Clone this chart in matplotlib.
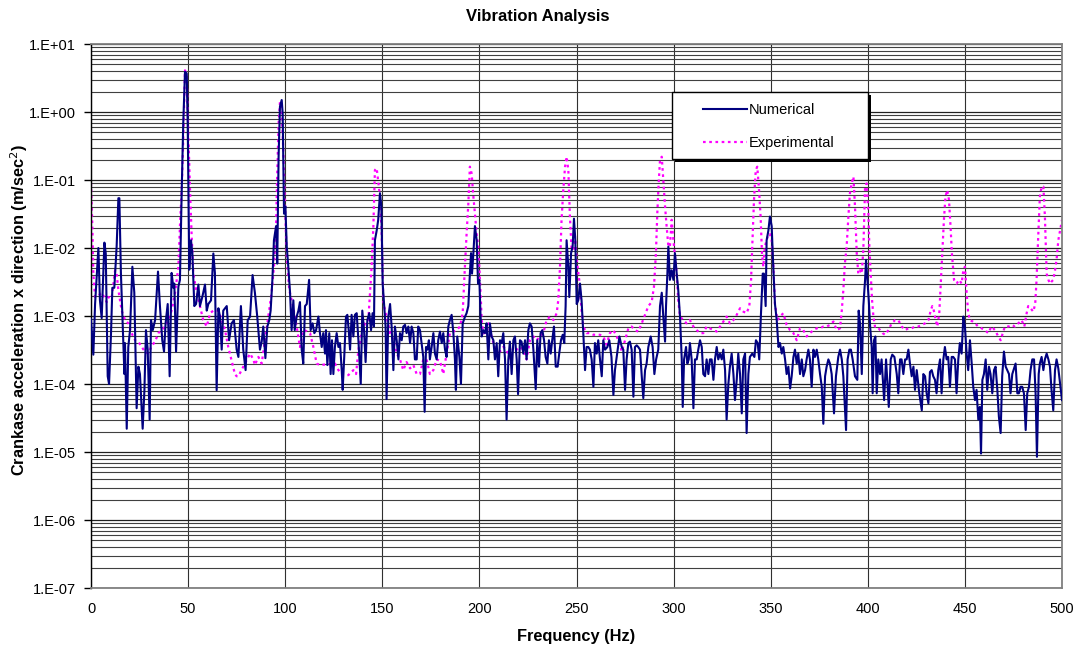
import numpy as np
import matplotlib
matplotlib.use("Agg")
import matplotlib.pyplot as plt
from matplotlib.patches import Rectangle
from matplotlib.lines import Line2D
from matplotlib.ticker import LogLocator, FuncFormatter

plt.rcParams["font.family"] = ["Liberation Sans", "DejaVu Sans"]

# ---- data (frequency in Hz, acceleration in m/s^2)
num_freq = [
    0.0, 1.2, 2.1, 3.8, 4.6, 5.5, 6.9, 7.6, 8.6, 9.3, 10.3, 11.0, 12.0, 13.2, 14.1, 14.6, 15.4,
    16.6, 17.2, 17.5, 18.4, 19.2, 20.1, 21.3, 22.3, 23.5, 24.4, 25.2, 26.6, 27.5, 28.3, 29.2,
    30.2, 30.9, 31.8, 33.0, 34.5, 35.5, 36.7, 37.6, 38.4, 39.5, 40.5, 41.5, 42.4, 42.9, 43.8,
    45.0, 45.8, 46.7, 47.5, 48.4, 49.3, 49.8, 50.6, 51.5, 52.2, 53.2, 54.1, 55.3, 56.1, 57.3,
    58.7, 59.6, 60.4, 61.8, 63.0, 63.8, 64.7, 65.6, 66.4, 67.3, 68.1, 69.9, 71.1, 72.4, 73.6,
    75.0, 75.9, 77.2, 78.4, 79.6, 80.7, 81.9, 83.2, 84.4, 85.6, 87.0, 87.9, 88.7, 89.8, 90.8,
    91.8, 92.5, 93.4, 94.2, 95.3, 95.9, 96.6, 97.3, 98.2, 98.7, 99.4, 100.1, 100.8, 101.6,
    102.5, 103.3, 104.2, 104.9, 105.9, 106.8, 107.6, 108.5, 109.3, 110.2, 111.1, 112.3, 113.1,
    114.1, 115.0, 115.9, 117.1, 117.9, 118.8, 119.6, 120.5, 121.0, 121.7, 122.7, 123.4, 124.1,
    124.8, 125.6, 126.5, 127.4, 128.2, 129.1, 129.6, 130.4, 131.3, 132.0, 132.7, 133.4, 134.2,
    135.1, 135.9, 136.8, 137.7, 138.9, 139.7, 140.6, 141.4, 142.3, 143.3, 144.2, 145.0, 145.7,
    146.2, 147.1, 147.9, 148.8, 149.5, 150.2, 150.9, 151.7, 152.2, 153.1, 154.0, 154.8, 155.7,
    156.5, 157.4, 158.3, 159.1, 160.0, 160.8, 161.7, 162.5, 163.4, 164.3, 165.1, 166.0, 166.8,
    167.7, 168.5, 169.4, 171.1, 171.8, 172.5, 173.2, 174.0, 174.5, 175.4, 176.3, 177.1, 178.0,
    178.8, 179.7, 180.6, 181.4, 182.3, 183.1, 184.0, 184.8, 185.7, 186.6, 187.4, 187.9, 188.6,
    189.7, 190.5, 191.4, 192.6, 193.4, 194.3, 195.1, 195.7, 196.2, 196.9, 197.7, 198.6, 199.3,
    200.0, 200.6, 201.2, 202.0, 202.9, 203.7, 204.6, 205.4, 206.3, 207.2, 208.0, 208.9, 209.7,
    210.6, 211.5, 212.3, 213.2, 214.0, 214.9, 215.7, 216.6, 217.5, 218.3, 219.2, 219.9, 220.9,
    221.7, 222.6, 223.5, 224.3, 225.2, 226.0, 226.9, 227.8, 229.0, 229.8, 230.7, 231.5, 232.4,
    233.3, 234.1, 235.0, 235.8, 236.7, 237.5, 238.4, 239.3, 240.3, 241.1, 242.0, 242.9, 243.7,
    244.4, 244.9, 245.8, 246.3, 247.2, 248.0, 248.7, 249.4, 250.1, 250.9, 251.8, 252.6, 253.5,
    254.4, 255.2, 256.1, 256.9, 257.8, 258.7, 259.5, 260.4, 261.2, 262.1, 263.0, 263.8, 264.7,
    265.9, 266.9, 268.0, 269.0, 269.8, 270.7, 272.1, 273.3, 274.1, 275.0, 275.8, 276.7, 277.5,
    278.4, 279.3, 280.1, 281.0, 281.8, 282.7, 283.6, 284.4, 285.3, 286.1, 287.0, 288.2, 289.2,
    290.1, 291.0, 292.1, 293.0, 293.9, 294.7, 295.6, 296.1, 296.8, 297.3, 298.1, 299.0, 299.9,
    300.7, 301.6, 302.4, 303.3, 304.2, 304.7, 305.4, 306.4, 307.1, 307.8, 308.4, 309.3, 310.2,
    311.0, 311.9, 312.7, 313.6, 314.5, 315.3, 316.2, 317.0, 317.9, 318.7, 319.6, 320.5, 321.3,
    322.2, 323.0, 323.9, 324.8, 325.6, 326.5, 327.3, 328.2, 329.0, 329.9, 330.8, 331.6, 332.5,
    333.3, 334.2, 335.1, 335.9, 336.8, 337.6, 338.5, 339.3, 340.5, 341.6, 342.4, 343.3, 344.1,
    345.0, 345.9, 346.5, 347.4, 347.9, 348.8, 349.6, 350.5, 351.4, 352.2, 353.1, 354.0, 354.8,
    355.7, 356.5, 357.4, 358.2, 359.1, 360.0, 360.8, 361.7, 362.5, 363.4, 364.2, 365.1, 366.0,
    366.8, 367.7, 368.5, 369.4, 370.2, 371.1, 372.0, 372.8, 373.7, 374.5, 375.4, 376.3, 377.1,
    378.0, 378.8, 379.7, 380.5, 381.4, 382.6, 383.6, 384.8, 385.7, 386.6, 387.4, 388.8, 389.6,
    390.5, 391.3, 392.2, 393.4, 394.6, 395.3, 396.0, 396.9, 397.7, 398.6, 399.1, 399.8, 400.5,
    401.2, 402.0, 402.5, 403.2, 403.9, 404.6, 405.4, 406.3, 407.1, 408.4, 409.4, 410.8, 411.8,
    412.6, 413.7, 414.9, 415.7, 416.6, 417.4, 418.3, 419.2, 420.0, 420.9, 421.7, 422.6, 423.5,
    424.3, 425.2, 426.5, 427.8, 428.6, 429.5, 430.3, 431.2, 432.0, 432.9, 433.7, 434.6, 435.4,
    436.3, 437.2, 438.0, 438.9, 439.7, 440.6, 441.4, 442.3, 443.2, 444.0, 444.9, 445.7, 446.6,
    447.4, 448.3, 449.2, 450.0, 450.9, 451.7, 452.6, 453.5, 454.3, 455.2, 456.0, 456.9, 457.7,
    458.3, 459.0, 459.8, 460.7, 461.5, 462.4, 463.2, 464.1, 465.0, 465.8, 466.7, 467.5, 468.4,
    469.2, 470.1, 471.0, 471.8, 472.7, 473.5, 474.4, 475.3, 476.1, 477.0, 477.8, 478.7, 479.5,
    480.4, 481.3, 482.1, 483.0, 483.8, 484.7, 485.6, 486.4, 487.1, 488.0, 488.6, 489.5, 490.4,
    491.2, 492.1, 493.0, 493.8, 494.6, 495.5, 496.4, 497.2, 498.1, 500.0,
]
num_acc = [
    9e-4, 2.7e-4, 1.5e-3, 1.0e-2, 1.7e-3, 9.3e-4, 1.2e-2, 8.3e-3, 1.3e-4, 1.0e-4, 5.5e-4, 2.6e-3, 2.6e-3, 1.05e-2, 5.4e-2, 5.4e-2, 4.3e-3,
    4.4e-4, 1.4e-4, 4.0e-4, 2.2e-5, 3.5e-4, 6.2e-4, 5.3e-3, 2.2e-3, 4.4e-5, 1.8e-4, 1.4e-4, 2.2e-5, 8e-5, 6.2e-4, 3.2e-4,
    3.0e-5, 8.7e-4, 6.2e-4, 8.7e-4, 4.5e-3, 1.4e-3, 4.4e-4, 3.0e-4, 7.8e-4, 1.5e-3, 1.3e-4, 4.3e-3, 2.6e-3, 3.0e-3, 3.0e-4,
    2.7e-3, 3.4e-3, 6.8e-2, 0.68, 3.9, 3.7, 0.68, 4.8e-3, 1.3e-2, 8.3e-3, 1.4e-3, 1.5e-3, 2.9e-3, 1.4e-3, 1.9e-3,
    2.9e-3, 1.2e-3, 1.5e-3, 1.7e-3, 8.3e-3, 4.3e-3, 8.1e-5, 1.3e-3, 9.8e-4, 3.2e-4, 1.2e-3, 1.4e-3, 4.4e-4, 7.8e-4, 8.7e-4,
    3.2e-4, 2.5e-4, 1.4e-3, 3.2e-4, 1.6e-4, 8.7e-4, 9.8e-4, 4.0e-3, 2.2e-3, 9.8e-4, 3.2e-4, 4.2e-4, 7.0e-4, 2.4e-4, 7.0e-4,
    8.7e-4, 1.2e-3, 3.4e-3, 1.3e-2, 2.1e-2, 5.9e-3, 0.22, 1.2, 1.5, 0.95, 3.2e-2, 4.1e-2, 1.05e-2, 5.3e-3,
    2.2e-3, 6.2e-4, 1.7e-3, 6.2e-4, 9.8e-4, 1.2e-3, 1.6e-3, 3.2e-4, 2.0e-4, 1.4e-3, 1.5e-3, 3.4e-3, 6.2e-4,
    7.8e-4, 5.6e-4, 6.2e-4, 9.8e-4, 5.6e-4, 3.5e-4, 5.6e-4, 2.8e-4, 6.2e-4, 1.9e-4, 5.6e-4, 1.4e-4, 4.4e-4,
    1.4e-4, 3.5e-4, 5.6e-4, 3.5e-4, 4.0e-4, 1.6e-4, 8.2e-5, 2.5e-4, 9.8e-4, 1.04e-3, 6.2e-4, 3.2e-4, 1.04e-3,
    5.0e-4, 1.04e-3, 1.1e-3, 4.4e-4, 1.0e-4, 1.2e-3, 6.2e-4, 2.1e-4, 8.7e-4, 1.1e-3, 6.2e-4, 1.1e-3, 7.0e-4,
    1.3e-2, 1.8e-2, 2.6e-2, 6.4e-2, 4.1e-2, 3.0e-3, 1.5e-3, 7.0e-4, 6.0e-5, 9.8e-4, 1.5e-3, 7.0e-4, 1.6e-4,
    7.0e-4, 4.4e-4, 2.3e-4, 5.6e-4, 4.4e-4, 7.0e-4, 7.4e-4, 5.6e-4, 7.0e-4, 4.0e-4, 7.0e-4, 5.6e-4, 2.3e-4,
    2.3e-4, 7.0e-4, 6.2e-4, 2.5e-4, 3.9e-5, 3.5e-4, 3.2e-4, 4.4e-4, 2.3e-4, 3.5e-4, 5.6e-4, 2.8e-4, 2.3e-4,
    4.4e-4, 5.9e-4, 4.0e-4, 5.6e-4, 3.2e-4, 2.5e-4, 7.0e-4, 8.7e-4, 1.04e-3, 5.6e-4, 2.3e-4, 8.2e-5, 5.0e-4,
    2.5e-4, 1.0e-4, 7.8e-4, 9.8e-4, 1.1e-3, 1.4e-3, 4.2e-3, 8.4e-3, 4.2e-3, 8.4e-3, 2.1e-2, 1.3e-2, 3.0e-3,
    3.4e-3, 9.8e-4, 5.0e-4, 6.2e-4, 5.6e-4, 7.8e-4, 2.3e-4, 7.8e-4, 5.0e-4, 4.4e-4, 2.3e-4, 4.0e-4, 1.3e-4,
    4.4e-4, 4.0e-4, 5.6e-4, 2.3e-4, 3.0e-5, 2.3e-4, 4.2e-4, 1.4e-4, 4.4e-4, 5.0e-4, 2.3e-4, 7.1e-5, 4.4e-4,
    4.2e-4, 2.8e-4, 4.4e-4, 2.3e-4, 6.2e-4, 7.8e-4, 7.0e-4, 3.2e-4, 8.4e-5, 4.4e-4, 1.8e-4, 5.6e-4, 6.2e-4,
    4.4e-4, 2.5e-4, 2.0e-4, 4.4e-4, 2.8e-4, 4.4e-4, 7.0e-4, 1.8e-4, 1.8e-4, 2.8e-4, 4.4e-4, 5.3e-4, 4.0e-4,
    1.4e-3, 1.3e-2, 5.3e-3, 1.9e-3, 8.4e-3, 1.05e-2, 2.7e-2, 1.3e-2, 1.5e-3, 1.7e-3, 3.0e-3, 1.7e-3, 5.6e-4,
    1.6e-4, 3.5e-4, 3.5e-4, 3.2e-4, 2.3e-4, 9.1e-5, 4.0e-4, 2.8e-4, 4.4e-4, 2.3e-4, 1.3e-4, 4.4e-4, 3.2e-4,
    3.5e-4, 4.4e-4, 2.5e-4, 6.9e-5, 1.6e-4, 2.5e-4, 5.0e-4, 3.5e-4, 3.2e-4, 8.2e-5, 2.3e-4, 4.0e-4, 4.2e-4,
    3.2e-4, 6.5e-5, 3.5e-4, 3.7e-4, 3.5e-4, 3.2e-4, 1.3e-4, 6.2e-5, 1.6e-4, 2.0e-4, 3.5e-4, 5.0e-4, 3.5e-4,
    1.4e-4, 2.3e-4, 3.2e-4, 1.4e-3, 2.2e-3, 9.8e-4, 4.2e-4, 1.4e-3, 4.2e-3, 1.05e-2, 3.4e-3, 4.7e-3, 3.4e-3,
    8.4e-3, 4.2e-3, 2.4e-3, 9.8e-4, 2.3e-4, 4.6e-5, 2.3e-4, 3.5e-4, 2.0e-4, 2.3e-4, 4.0e-4, 2.3e-4, 4.4e-5,
    2.3e-4, 2.3e-4, 3.2e-4, 4.4e-4, 3.5e-4, 1.4e-4, 1.3e-4, 2.3e-4, 1.4e-4, 2.3e-4, 2.3e-4, 1.15e-4, 2.3e-4,
    3.5e-4, 2.3e-4, 2.8e-4, 2.3e-4, 3.2e-4, 1.6e-4, 3.0e-5, 1.0e-4, 1.8e-4, 2.8e-4, 1.4e-4, 5.8e-5, 1.15e-4,
    2.8e-4, 1.4e-4, 3.7e-5, 2.3e-4, 2.8e-4, 1.9e-5, 1.4e-4, 2.5e-4, 2.8e-4, 2.5e-4, 4.4e-4, 4.0e-4, 2.3e-4,
    1.1e-3, 4.2e-3, 4.2e-3, 1.4e-3, 1.3e-2, 1.8e-2, 2.9e-2, 2.1e-2, 4.7e-3, 1.5e-3, 8.7e-4, 3.5e-4, 4.0e-4,
    2.8e-4, 3.5e-4, 2.3e-4, 1.4e-4, 1.8e-4, 8.6e-5, 1.3e-4, 2.5e-4, 3.2e-4, 2.0e-4, 2.8e-4, 1.4e-4, 2.3e-4,
    1.3e-4, 1.6e-4, 2.3e-4, 3.2e-4, 2.3e-4, 9.1e-5, 3.2e-4, 2.5e-4, 3.2e-4, 2.3e-4, 1.4e-4, 9.1e-5, 2.6e-5,
    1.3e-4, 1.8e-4, 2.3e-4, 2.0e-4, 1.4e-4, 3.7e-5, 1.3e-4, 2.5e-4, 3.2e-4, 2.3e-4, 1.3e-4, 2.1e-5, 2.3e-4,
    3.2e-4, 3.2e-4, 2.3e-4, 1.3e-4, 1.15e-4, 1.2e-3, 7.8e-4, 1.4e-4, 1.4e-3, 3.4e-3, 6.7e-3, 3.4e-3, 1.7e-3,
    7.0e-4, 3.5e-4, 7.3e-5, 4.4e-4, 5.0e-4, 7.3e-5, 2.3e-4, 1.4e-4, 2.3e-4, 5.8e-5, 2.3e-4, 4.6e-5, 2.3e-4,
    2.7e-4, 2.5e-4, 1.4e-4, 7.3e-5, 2.3e-4, 2.3e-4, 1.4e-4, 2.3e-4, 2.3e-4, 3.2e-4, 2.0e-4, 1.3e-4, 1.8e-4,
    8.2e-5, 1.6e-4, 7.3e-5, 4.1e-5, 1.4e-4, 1.3e-4, 7.3e-5, 5.2e-5, 1.5e-4, 1.6e-4, 1.3e-4, 1.15e-4, 7.3e-5,
    1.6e-4, 2.3e-4, 7.3e-5, 2.3e-4, 3.5e-4, 2.3e-4, 2.5e-4, 9.1e-5, 2.5e-4, 2.5e-4, 2.3e-4, 7.3e-5, 2.3e-4,
    4.0e-4, 2.8e-4, 9.8e-4, 7.0e-4, 2.8e-4, 1.6e-4, 4.4e-4, 2.0e-4, 9.1e-5, 5.8e-5, 8.2e-5, 3.0e-5, 4.6e-5,
    9.5e-6, 1.15e-4, 1.4e-4, 2.3e-4, 8.2e-5, 1.8e-4, 1.4e-4, 7.3e-5, 1.6e-4, 1.8e-4, 8.2e-5, 3.3e-5, 1.9e-5,
    1.3e-4, 3.0e-4, 1.8e-4, 1.6e-4, 1.4e-4, 7.3e-5, 1.4e-4, 1.7e-4, 2.0e-4, 7.3e-5, 7.3e-5, 9.1e-5, 9.1e-5,
    7.3e-5, 2.1e-5, 7.3e-5, 9.1e-5, 1.6e-4, 2.3e-4, 2.3e-4, 7.3e-5, 8.5e-6, 1.4e-4, 2.0e-4, 2.5e-4, 1.6e-4,
    2.3e-4, 2.8e-4, 2.3e-4, 1.8e-4, 8.2e-5, 4.1e-5, 1.6e-4, 2.3e-4, 1.7e-4, 5.8e-5,
]

exp_freq = [
    0.0, 0.7, 1.2, 2.1, 3.8, 5.5, 7.2, 8.1, 8.9, 10.6, 12.4, 13.2, 14.1, 15.8, 17.5, 19.2, 20.9,
    22.7, 24.4, 26.1, 27.8, 29.5, 31.2, 33.0, 34.7, 36.4, 38.1, 39.8, 41.5, 43.3, 45.0, 45.8,
    46.7, 47.5, 48.4, 49.3, 50.1, 51.0, 51.8, 52.7, 54.4, 56.1, 57.8, 59.6, 61.3, 63.0, 65.6,
    67.3, 69.0, 70.7, 72.4, 74.1, 75.0, 75.9, 79.3, 81.9, 83.6, 84.4, 86.2, 87.9, 89.6, 91.3,
    93.0, 94.2, 95.3, 95.9, 96.6, 97.3, 98.2, 99.0, 99.9, 100.8, 102.1, 103.8, 105.9, 107.6,
    109.3, 111.1, 112.8, 114.5, 116.2, 117.9, 125.6, 127.4, 129.9, 132.5, 135.1, 136.5, 137.7,
    139.4, 141.1, 142.8, 144.5, 145.4, 146.2, 147.1, 148.0, 148.8, 149.7, 150.5, 151.4, 152.6,
    154.0, 155.7, 157.4, 159.1, 160.8, 162.5, 164.3, 166.0, 167.7, 169.4, 171.1, 172.8, 174.5,
    176.3, 178.0, 179.7, 181.4, 183.1, 184.8, 186.6, 188.3, 190.0, 191.4, 192.2, 193.4, 194.3,
    195.1, 196.0, 196.9, 197.7, 198.6, 199.4, 200.3, 201.2, 202.0, 203.4, 204.6, 205.4, 206.8,
    208.0, 209.2, 210.6, 212.3, 214.0, 215.7, 217.5, 219.2, 220.9, 222.6, 224.3, 226.0, 227.8,
    229.5, 231.2, 232.9, 234.6, 236.3, 238.1, 239.8, 240.6, 241.5, 242.3, 243.2, 244.1, 244.9,
    245.8, 246.6, 247.5, 248.4, 249.2, 250.1, 251.4, 252.6, 253.5, 255.2, 256.9, 258.7, 261.2,
    262.1, 263.8, 265.5, 267.2, 269.0, 270.7, 272.4, 273.3, 275.0, 276.7, 278.4, 280.1, 281.8,
    283.6, 285.3, 287.0, 288.7, 289.9, 290.9, 291.6, 292.3, 293.0, 293.9, 294.7, 295.6, 296.4,
    297.3, 298.1, 299.0, 299.9, 300.7, 301.6, 302.4, 303.3, 305.0, 306.7, 308.4, 310.2, 311.9,
    313.6, 315.3, 317.0, 318.7, 320.5, 322.2, 323.9, 325.6, 327.3, 329.0, 330.8, 332.5, 334.2,
    335.9, 337.6, 339.0, 339.9, 340.5, 341.4, 342.3, 343.1, 344.0, 344.8, 345.5, 346.2, 347.0,
    347.9, 348.8, 349.6, 350.5, 351.4, 352.2, 353.5, 354.8, 356.5, 358.2, 360.0, 361.7, 363.4,
    365.1, 366.8, 368.5, 370.2, 372.0, 373.7, 375.4, 377.1, 378.8, 380.5, 382.3, 384.0, 385.7,
    386.6, 387.4, 388.2, 389.1, 390.0, 390.8, 391.7, 392.6, 393.4, 394.3, 395.1, 396.0, 396.9,
    397.7, 398.6, 399.4, 400.3, 400.8, 401.5, 402.2, 402.9, 403.7, 404.9, 406.3, 407.6, 408.9,
    410.6, 412.3, 414.0, 415.7, 417.5, 419.2, 420.9, 422.6, 424.3, 426.0, 427.8, 429.5, 431.2,
    432.4, 433.2, 434.0, 435.0, 435.8, 436.8, 437.5, 438.5, 439.2, 440.0, 440.9, 441.8, 442.6,
    443.3, 444.4, 445.7, 447.1, 448.3, 449.2, 450.0, 450.9, 451.7, 452.6, 454.0, 455.2, 456.9,
    458.6, 460.3, 462.0, 463.7, 465.5, 467.2, 468.4, 469.5, 470.6, 472.4, 474.1, 475.8, 477.5,
    479.2, 480.6, 481.8, 482.6, 483.8, 485.2, 486.2, 486.9, 487.8, 488.6, 489.5, 490.4, 491.2,
    492.1, 493.0, 493.8, 494.6, 495.5, 496.4, 497.2, 498.1, 500.0,
]
exp_acc = [
    9e-2, 2.1e-2, 4.2e-3, 1.9e-3, 2.0e-3, 2.2e-3, 1.8e-3, 1.6e-3, 1.9e-3, 1.8e-3, 4.7e-3, 4.2e-3, 2.4e-3, 1.2e-3, 8.7e-4, 7.8e-4, 5.6e-4,
    4.4e-4, 4.2e-4, 3.5e-4, 3.0e-4, 2.8e-4, 3.6e-4, 4.2e-4, 5.6e-4, 6.2e-4, 7.0e-4, 8.7e-4, 1.2e-3, 2.2e-3, 5.3e-3, 2.1e-2,
    7.1e-2, 0.39, 4.1, 3.3, 0.49, 7.1e-2, 1.6e-2, 4.2e-3, 2.2e-3, 1.4e-3, 8.7e-4, 7.0e-4, 1.1e-3, 1.2e-3, 1.2e-3,
    8.7e-4, 6.2e-4, 3.5e-4, 2.2e-4, 1.4e-4, 1.3e-4, 1.3e-4, 2.0e-4, 2.8e-4, 2.3e-4, 1.9e-4, 2.5e-4, 2.0e-4, 4.4e-4, 9.8e-4,
    2.2e-3, 5.3e-3, 2.1e-2, 0.125, 0.68, 1.4, 1.07, 0.28, 4.1e-2, 7.5e-3, 2.4e-3, 1.5e-3, 7.0e-4, 3.5e-4,
    6.2e-4, 6.0e-4, 5.6e-4, 3.5e-4, 2.0e-4, 1.9e-4, 2.0e-4, 1.6e-4, 1.35e-4, 1.35e-4, 1.6e-4, 1.4e-4, 3.2e-4,
    5.6e-4, 7.8e-4, 8.7e-4, 5.3e-3, 2.1e-2, 0.14, 0.149, 8.9e-2, 5.7e-2, 1.6e-2, 1.7e-3, 1.2e-3, 8.7e-4,
    5.6e-4, 4.4e-4, 2.8e-4, 2.3e-4, 1.6e-4, 2.1e-4, 1.7e-4, 1.9e-4, 1.4e-4, 1.4e-4, 2.3e-4, 2.3e-4, 1.4e-4,
    1.6e-4, 2.3e-4, 2.2e-4, 1.4e-4, 2.8e-4, 5.6e-4, 5.9e-4, 6.2e-4, 7.0e-4, 1.1e-3, 3.4e-3, 1.6e-2, 4.5e-2,
    0.157, 0.125, 5.7e-2, 3.2e-2, 1.6e-2, 1.05e-2, 3.4e-3, 8.7e-4, 5.6e-4, 5.6e-4, 7.8e-4, 6.2e-4, 4.4e-4,
    3.5e-4, 3.2e-4, 3.0e-4, 3.5e-4, 3.2e-4, 2.3e-4, 3.5e-4, 3.2e-4, 3.5e-4, 3.2e-4, 2.3e-4, 4.4e-4, 5.0e-4,
    4.4e-4, 5.0e-4, 5.6e-4, 8.7e-4, 9.8e-4, 8.7e-4, 1.1e-3, 1.7e-3, 5.3e-3, 2.6e-2, 7.1e-2, 0.157, 0.22,
    0.14, 2.9e-2, 9.4e-3, 9.4e-3, 1.5e-2, 6.7e-3, 3.4e-3, 1.2e-3, 7.0e-4, 5.6e-4, 5.6e-4, 5.3e-4, 5.3e-4,
    5.3e-4, 5.0e-4, 3.8e-4, 5.6e-4, 6.2e-4, 5.0e-4, 3.8e-4, 3.0e-4, 4.4e-4, 6.6e-4, 7.0e-4, 6.2e-4, 5.9e-4,
    7.8e-4, 1.04e-3, 1.4e-3, 1.6e-3, 2.7e-3, 8.4e-3, 3.2e-2, 8.9e-2, 0.197, 0.22, 0.1, 4.1e-2, 2.1e-2,
    1.05e-2, 1.05e-2, 2.6e-2, 1.3e-2, 7.5e-3, 4.2e-3, 1.7e-3, 9.8e-4, 8.7e-4, 7.8e-4, 8.7e-4, 7.0e-4, 6.2e-4,
    5.6e-4, 5.6e-4, 7.0e-4, 6.6e-4, 6.2e-4, 5.9e-4, 7.0e-4, 8.3e-4, 9.8e-4, 7.8e-4, 8.7e-4, 1.04e-3, 1.3e-3,
    1.16e-3, 1.1e-3, 1.4e-3, 3.4e-3, 1.05e-2, 5.1e-2, 0.14, 0.157, 7.1e-2, 2.9e-2, 8.4e-3, 5.3e-3, 1.05e-2,
    1.3e-2, 1.6e-2, 1.6e-2, 1.3e-2, 5.3e-3, 1.5e-3, 8.7e-4, 9.8e-4, 1.1e-3, 7.4e-4, 6.2e-4, 5.6e-4, 4.4e-4,
    6.6e-4, 6.2e-4, 5.0e-4, 5.6e-4, 6.2e-4, 6.6e-4, 6.6e-4, 7.0e-4, 7.0e-4, 7.4e-4, 8.3e-4, 6.2e-4, 6.6e-4,
    1.2e-3, 2.4e-3, 5.9e-3, 1.05e-2, 2.9e-2, 6.4e-2, 8.9e-2, 0.112, 4.1e-2, 8.4e-3, 4.2e-3, 4.7e-3, 4.2e-3,
    9.4e-3, 8.0e-2, 8.9e-2, 3.2e-2, 1.05e-2, 4.2e-3, 1.7e-3, 9.8e-4, 7.0e-4, 7.0e-4, 6.2e-4, 5.6e-4, 5.3e-4,
    6.2e-4, 7.8e-4, 8.7e-4, 8.7e-4, 7.0e-4, 6.2e-4, 6.6e-4, 6.6e-4, 7.0e-4, 7.0e-4, 7.4e-4, 7.8e-4, 8.7e-4,
    1.2e-3, 1.4e-3, 1.2e-3, 8.7e-4, 7.0e-4, 1.1e-3, 2.7e-3, 1.05e-2, 2.6e-2, 5.7e-2, 7.1e-2, 5.1e-2, 2.1e-2,
    8.4e-3, 3.4e-3, 3.0e-3, 3.4e-3, 3.0e-3, 4.7e-3, 5.3e-3, 2.2e-3, 1.1e-3, 8.7e-4, 8.3e-4, 7.8e-4, 7.0e-4,
    6.6e-4, 6.2e-4, 5.6e-4, 7.0e-4, 6.2e-4, 5.0e-4, 4.4e-4, 5.6e-4, 7.0e-4, 7.0e-4, 7.4e-4, 7.0e-4, 7.8e-4,
    8.7e-4, 7.0e-4, 1.1e-3, 1.4e-3, 1.3e-3, 1.16e-3, 1.5e-3, 3.4e-3, 1.6e-2, 5.7e-2, 8.0e-2, 8.0e-2, 2.9e-2,
    4.2e-3, 3.4e-3, 3.0e-3, 3.2e-3, 3.4e-3, 4.7e-3, 6.7e-3, 1.3e-2, 2.6e-2,
]

y_ticks = [1e-7, 1e-6, 1e-5, 1e-4, 1e-3, 1e-2, 1e-1, 1e0, 1e1]
x_ticks = [0, 50, 100, 150, 200, 250, 300, 350, 400, 450, 500]

W, H = 1076, 655
NUM_COLOR = "#000080"
EXP_COLOR = "#FF00FF"
EXP_DASH = (0, (1.2, 1.6))


def excel_sci(v, pos):
    return "1.E%+03d" % int(round(np.log10(v)))


def px_box(x0, y0, x1, y1):
    # pixel box (top-left origin) -> figure fraction rectangle
    return (x0 / W, 1 - y1 / H), (x1 - x0) / W, (y1 - y0) / H


def main():
    fig = plt.figure(figsize=(W / 100, H / 100), dpi=100)
    ax = fig.add_axes([91 / W, 1 - 588 / H, 971 / W, 544 / H])

    ax.plot(num_freq, num_acc, color=NUM_COLOR, lw=1.5, zorder=3)
    ax.plot(exp_freq, exp_acc, color=EXP_COLOR, lw=1.6, ls=EXP_DASH, zorder=2)

    ax.set_yscale("log")
    ax.set_xlim(0, 500)
    ax.set_ylim(1e-7, 1e1)
    ax.set_xticks(x_ticks)
    ax.set_yticks(y_ticks)
    ax.yaxis.set_major_formatter(FuncFormatter(excel_sci))
    ax.yaxis.set_minor_locator(LogLocator(base=10, subs=np.arange(2, 10)))
    ax.yaxis.set_minor_formatter(plt.NullFormatter())

    # grid: every decade and every minor step, vertical every 50 Hz
    ax.grid(True, which="major", axis="y", color="#202020", lw=0.9)
    ax.grid(True, which="minor", axis="y", color="#404040", lw=0.8)
    ax.grid(True, which="major", axis="x", color="#303030", lw=0.8)
    ax.set_axisbelow(True)

    ax.tick_params(axis="y", which="major", direction="out", length=5, width=1,
                   labelsize=10.5, pad=6)
    ax.tick_params(axis="y", which="minor", length=0)
    ax.tick_params(axis="x", length=0, labelsize=10.5, pad=10)

    for side in ("top", "right", "bottom"):
        ax.spines[side].set_color("#808080")
        ax.spines[side].set_linewidth(1.3)
    ax.spines["left"].set_color("black")
    ax.spines["left"].set_linewidth(1.0)

    fig.text(0.5, 1 - 17 / H, "Vibration Analysis", fontsize=12, fontweight="bold",
             ha="center", va="center")
    fig.text(576 / W, 1 - 637 / H, "Frequency (Hz)", fontsize=11.8, fontweight="bold",
             ha="center", va="center")
    fig.text(19 / W, 1 - 310 / H, "Crankase acceleration x direction (m/sec$^2$)",
             fontsize=11.8, fontweight="bold", rotation=90, ha="center", va="center")

    # legend box with a solid black drop shadow
    (sx, sy), sw, sh = px_box(675, 95, 871, 162)
    fig.add_artist(Rectangle((sx, sy), sw, sh, transform=fig.transFigure,
                             facecolor="black", edgecolor="black", lw=0, zorder=3))
    (bx, by), bw, bh = px_box(672, 92, 868, 159)
    fig.add_artist(Rectangle((bx, by), bw, bh, transform=fig.transFigure,
                             facecolor="white", edgecolor="black", lw=1.0, zorder=4))
    handles = [Line2D([], [], color=NUM_COLOR, lw=1.5),
               Line2D([], [], color=EXP_COLOR, lw=1.6, ls=EXP_DASH)]
    fig.legend(handles, ["Numerical", "Experimental"], loc="upper left",
               bbox_to_anchor=(703 / W, 1 - 103 / H), frameon=False, fontsize=10.5,
               handlelength=3.0, handletextpad=0.15, labelspacing=1.3,
               borderpad=0, borderaxespad=0)

    fig.savefig("out.png", dpi=100)
    plt.close(fig)


if __name__ == "__main__":
    main()
